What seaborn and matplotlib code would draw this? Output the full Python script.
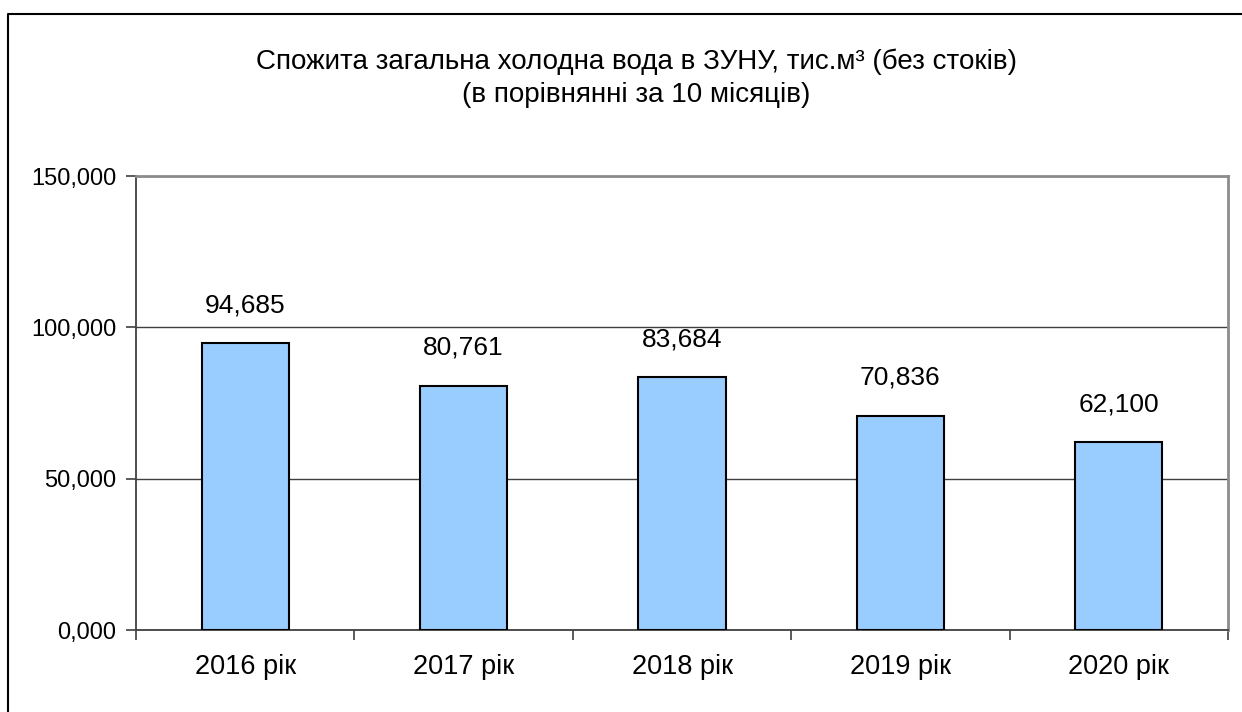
import matplotlib
matplotlib.use("Agg")
import matplotlib.pyplot as plt
import seaborn as sns
import pandas as pd
from matplotlib.lines import Line2D
from matplotlib.ticker import FixedLocator, FuncFormatter

categories = ["2016 рік", "2017 рік", "2018 рік", "2019 рік", "2020 рік"]
values = [94.685, 80.761, 83.684, 70.836, 62.100]
y_ticks = [0, 50, 100, 150]
title_line1 = "Спожита загальна холодна вода в ЗУНУ, тис.м³ (без стоків)"
title_line2 = "(в порівнянні за 10 місяців)"

sns.set_theme(style="white")
plt.rcParams["font.family"] = ["Liberation Sans", "DejaVu Sans"]

W, H = 1242, 712
fig = plt.figure(figsize=(W / 100, H / 100), dpi=100)
ax = fig.add_axes([136 / W, 1 - 630 / H, (1228 - 136) / W, (630 - 176) / H])

df = pd.DataFrame({"cat": categories, "val": values})
sns.barplot(data=df, x="cat", y="val", color="#99CCFF", edgecolor="black",
            linewidth=1.5, width=0.4, saturation=1, ax=ax, zorder=3)

ax.set_xlim(-0.5, len(categories) - 0.5)
ax.set_ylim(0, 150)
ax.set_yticks(y_ticks)
ax.yaxis.set_major_formatter(FuncFormatter(lambda v, p: f"{v:.3f}".replace(".", ",")))
ax.grid(axis="y", color="#404040", linewidth=1.0, zorder=1)
ax.grid(axis="x", visible=False)
ax.set_xlabel("")
ax.set_ylabel("")

ax.tick_params(axis="x", which="major", length=0, labelsize=19.5, pad=17, colors="black")
ax.xaxis.set_minor_locator(FixedLocator([i - 0.5 for i in range(len(categories) + 1)]))
ax.tick_params(axis="x", which="minor", length=7, width=1.2, color="#404040", direction="out", bottom=True)
ax.tick_params(axis="y", which="major", length=7, width=1.2, color="#404040", direction="out",
               left=True, labelsize=17, pad=7, labelcolor="black")

for s in ["left", "bottom"]:
    ax.spines[s].set_color("#404040")
    ax.spines[s].set_linewidth(1.3)
for s in ["top", "right"]:
    ax.spines[s].set_color("#8c8c8c")
    ax.spines[s].set_linewidth(2.0)

for i, v in enumerate(values):
    ax.annotate(f"{v:.3f}".replace(".", ","), (i, v), xytext=(0, 18.5), textcoords="offset points",
                ha="center", va="bottom", fontsize=19, color="black")

fig.text(636 / W, 1 - 62 / H, title_line1, ha="center", va="center", fontsize=20, color="black")
fig.text(636 / W, 1 - 95 / H, title_line2, ha="center", va="center", fontsize=20, color="black")

fig.add_artist(Line2D([7.5 / W, 7.5 / W, 1.0], [0.0, 1 - 13.5 / H, 1 - 13.5 / H],
                      transform=fig.transFigure, color="black", linewidth=1.5))

fig.savefig("out.png", dpi=100, facecolor="white")
